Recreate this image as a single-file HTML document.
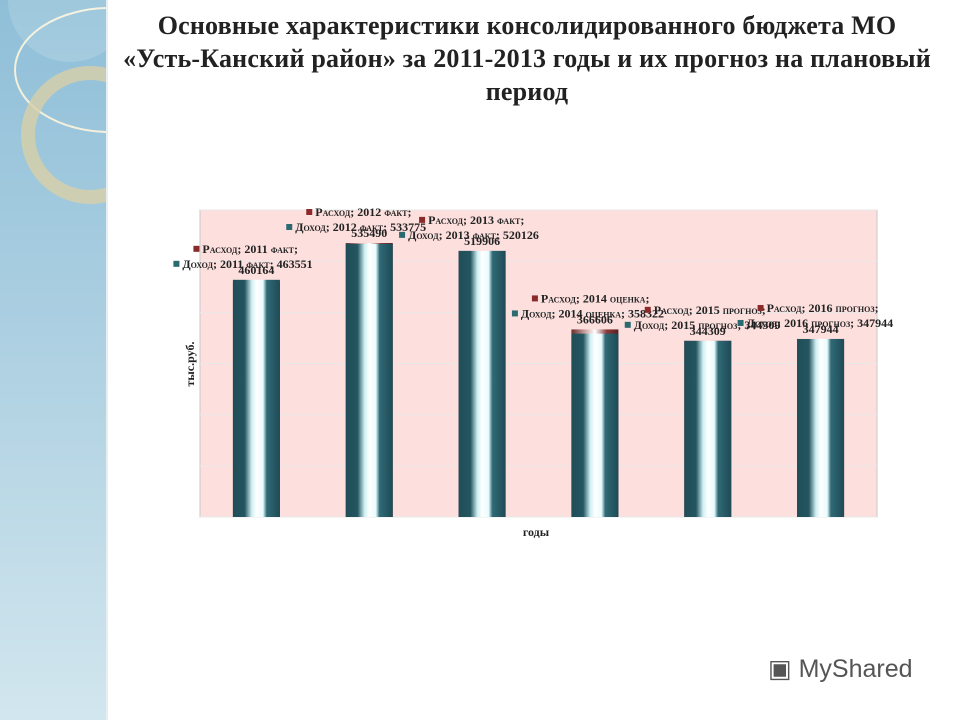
<!DOCTYPE html>
<html><head><meta charset="utf-8">
<style>
body{margin:0;width:960px;height:720px;overflow:hidden;background:#fff;position:relative;font-family:"Liberation Serif",serif}
#side{position:absolute;left:0;top:0;width:106px;height:720px;background:linear-gradient(#8fbfd8,#a8cde0 40%,#d2e6ee);border-right:2px solid #e6eef2}
h1{position:absolute;left:96px;width:862px;top:9px;margin:0;text-align:center;font-size:26px;line-height:33px;letter-spacing:0.2px;font-weight:bold;color:#222}
#logo{position:absolute;left:768px;top:654px;font-family:"Liberation Sans",sans-serif;font-size:25px;color:#555}
</style></head><body>
<div id="side">
<svg width="106" height="720"><ellipse cx="110" cy="70" rx="95" ry="62" fill="none" stroke="#f4f0dc" stroke-width="2"/><circle cx="90" cy="135" r="62" fill="none" stroke="#d8cfa8" stroke-width="14" opacity=".8"/><circle cx="70" cy="0" r="62" fill="#fff" opacity=".15"/></svg>
</div>
<h1>Основные характеристики консолидированного бюджета МО<br>«Усть-Канский район» за 2011-2013 годы и их прогноз на плановый<br>период</h1>
<svg id="chart" width="960" height="720" style="position:absolute;left:0;top:0">
<defs><linearGradient id="cyl" x1="0" x2="1"><stop offset="0" stop-color="#1f4e58"/><stop offset=".25" stop-color="#245560"/><stop offset=".4" stop-color="#cfeff2"/><stop offset=".5" stop-color="#ffffff"/><stop offset=".64" stop-color="#e8fbfd"/><stop offset=".72" stop-color="#2f6a76"/><stop offset="1" stop-color="#1f4a55"/></linearGradient>
<linearGradient id="cylr" x1="0" x2="1"><stop offset="0" stop-color="#6a2a2a"/><stop offset=".38" stop-color="#e8c8c8"/><stop offset=".5" stop-color="#fff"/><stop offset=".75" stop-color="#8a3a3a"/><stop offset="1" stop-color="#5a2020"/></linearGradient></defs>
<g id="g"></g>
</svg>
<div id="logo">▣ MyShared</div>
<script>
const categories=["2011 факт","2012 факт","2013 факт","2014 оценка","2015 прогноз","2016 прогноз"];
const income=[463551,533775,520126,358322,344309,347944];
const expense=[460164,535490,519906,366606,344309,347944];
const yTicks=[0,100000,200000,300000,400000,500000,600000];
const NS="http://www.w3.org/2000/svg";
const g=document.getElementById('g');
const L=200,R=877,T=210,B=517,max=600000;
const y=v=>B-(v/max)*(B-T);
const xc=i=>L+(R-L)*(i+0.5)/categories.length;
function mk(t,a){const e=document.createElementNS(NS,t);for(const k in a)e.setAttribute(k,a[k]);g.appendChild(e);return e;}
let e=mk('rect',{x:L,y:T,width:R-L,height:B-T,fill:'#fde0de',stroke:'#c8c8c8'});


yTicks.forEach(v=>{const l=mk('line',{x1:L,x2:R,y1:y(v),y2:y(v),stroke:'#e8e8e8'});

});
const bw=47;
categories.forEach((c,i)=>{
 const x=xc(i);
 const r=mk('rect',{x:x-bw/2,y:y(expense[i]),width:bw,height:B-y(expense[i]),fill:'url(#cylr)'});
 
 
 const b=mk('rect',{x:x-bw/2,y:y(income[i]),width:bw,height:B-y(income[i]),fill:'url(#cyl)'});
 
 
 const top=Math.min(y(income[i]),y(expense[i]));
 const m1=mk('rect',{x:x-63,y:top-34,width:6,height:6,fill:'#8b2a2a'});
 
 
 const t1=mk('text',{x:x-54,y:top-27,'font-size':12,'font-weight':'bold',fill:'#222','font-variant':'small-caps'});
 t1.textContent='Расход; '+c+';';
 
 
 const m2=mk('rect',{x:x-83,y:top-19,width:6,height:6,fill:'#2a6a70'});
 
 
 const t2=mk('text',{x:x-74,y:top-12,'font-size':12,'font-weight':'bold',fill:'#222','font-variant':'small-caps'});
 t2.textContent='Доход; '+c+'; '+income[i];
 
 
 const v=mk('text',{x:x,y:top-6,'font-size':12,'font-weight':'bold','text-anchor':'middle',fill:'#222'});
 v.textContent=expense[i];
 
 
});
let xt=mk('text',{x:536,y:536,'font-size':12,'font-weight':'bold','text-anchor':'middle',fill:'#222'});
xt.textContent='годы';


let yt=mk('text',{x:0,y:0,'font-size':12,'font-weight':'bold','text-anchor':'middle',fill:'#222',transform:'translate(194,364) rotate(-90)'});
yt.textContent='тыс.руб.';


</script>
</body></html>
